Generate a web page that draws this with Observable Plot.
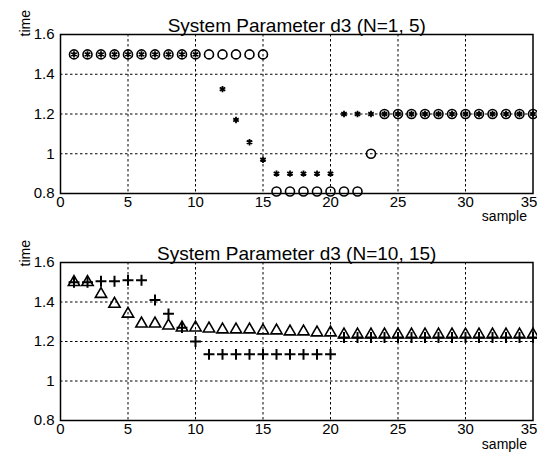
<!DOCTYPE html>
<html><head><meta charset="utf-8">
<script src="https://cdn.jsdelivr.net/npm/d3@7"></script>
<script src="https://cdn.jsdelivr.net/npm/@observablehq/plot@0.6"></script>
<style>body{margin:0;background:#fff} svg{display:block}</style>
</head><body><div id="chart"></div>
<script>
// ---- data ----
const titles = ["System Parameter d3 (N=1, 5)", "System Parameter d3 (N=10, 15)"];
const xTicks = [0, 5, 10, 15, 20, 25, 30, 35];
const yTicks = [0.8, 1, 1.2, 1.4, 1.6];
const yTickLabels = ["0.8", "1", "1.2", "1.4", "1.6"];
const xGrid = [5, 10, 15, 20, 25, 30];
const yGrid = [1, 1.2, 1.4];

// top panel: 'o' series
const topCircleX = [1,2,3,4,5,6,7,8,9,10,11,12,13,14,15,16,17,18,19,20,21,22,23,24,25,26,27,28,29,30,31,32,33,34,35];
const topCircleY = [1.5,1.5,1.5,1.5,1.5,1.5,1.5,1.5,1.5,1.5,1.5,1.5,1.5,1.5,1.5,
                    0.81,0.81,0.81,0.81,0.81,0.81,0.81,1.0,
                    1.2,1.2,1.2,1.2,1.2,1.2,1.2,1.2,1.2,1.2,1.2,1.2];
// top panel: '*' series
const topStarX = [1,2,3,4,5,6,7,8,9,10,12,13,14,15,16,17,18,19,20,21,22,23,24,25,26,27,28,29,30,31,32,33,34,35];
const topStarY = [1.5,1.5,1.5,1.5,1.5,1.5,1.5,1.5,1.5,1.5,
                  1.325,1.17,1.058,0.97,0.9,0.9,0.9,0.9,0.9,1.2,1.2,1.2,
                  1.2,1.2,1.2,1.2,1.2,1.2,1.2,1.2,1.2,1.2,1.2,1.2];
// bottom panel: triangle series
const botTriX = [1,2,3,4,5,6,7,8,9,10,11,12,13,14,15,16,17,18,19,20,21,22,23,24,25,26,27,28,29,30,31,32,33,34,35];
const botTriY = [1.5,1.5,1.44,1.39,1.34,1.29,1.29,1.28,1.27,1.27,1.265,1.26,1.26,1.26,1.255,1.255,1.25,1.25,1.245,1.245,
                 1.235,1.235,1.235,1.235,1.235,1.235,1.235,1.235,1.235,1.235,1.235,1.235,1.235,1.235,1.235];
// bottom panel: '+' series
const botPlusX = [1,2,3,4,5,6,7,8,9,10,11,12,13,14,15,16,17,18,19,20,21,22,23,24,25,26,27,28,29,30,31,32,33,34,35];
const botPlusY = [1.5,1.5,1.505,1.505,1.51,1.51,1.41,1.34,1.27,1.2,
                  1.135,1.135,1.135,1.135,1.135,1.135,1.135,1.135,1.135,1.135,
                  1.22,1.22,1.22,1.22,1.22,1.22,1.22,1.22,1.22,1.22,1.22,1.22,1.22,1.22,1.22];

const zip = (xs, ys) => xs.map((x, i) => ({x, y: ys[i]}));
const FONT = "Liberation Sans, Arial, Helvetica, sans-serif";

function panel({title, mTop, mBottom, titleDy, sampleDy, timeDy, seriesMarks}) {
  const lastTick = xTicks[xTicks.length - 1];
  return Plot.plot({
    width: 537, height: 229,
    marginLeft: 60, marginRight: 4.5, marginTop: mTop, marginBottom: mBottom,
    style: {fontFamily: FONT, fontSize: "15px", color: "black", background: "white"},
    x: {domain: [0, 35], axis: null},
    y: {domain: [0.8, 1.6], ticks: yTicks, tickFormat: d => yTickLabels[yTicks.indexOf(d)], tickSize: 0, tickPadding: 6, label: null},
    marks: [
      Plot.ruleX(xGrid, {stroke: "black", strokeWidth: 1, strokeDasharray: "2.5,2.5"}),
      Plot.ruleY(yGrid, {stroke: "black", strokeWidth: 1, strokeDasharray: "2.5,2.5"}),
      Plot.frame({stroke: "black", strokeWidth: 1.5}),
      ...seriesMarks,
      // x tick labels
      Plot.text(xTicks.filter(d => d !== lastTick), {x: d => d, text: d => String(d), frameAnchor: "bottom", lineAnchor: "top", dy: 3, fontSize: 15}),
      Plot.text([lastTick], {x: d => d, text: d => String(d), frameAnchor: "bottom", lineAnchor: "top", dy: 3, dx: -4, fontSize: 15}),
      Plot.text([title], {text: d => d, frameAnchor: "top", dy: titleDy, fontSize: 19}),
      Plot.text(["time"], {text: d => d, frameAnchor: "top-left", dx: -40, dy: timeDy, rotate: -90, fontSize: 14}),
      Plot.text(["sample"], {text: d => d, frameAnchor: "bottom-right", textAnchor: "end", dx: -6, dy: sampleDy, fontSize: 14})
    ]
  });
}

const topPanel = panel({
  title: titles[0], mTop: 34, mBottom: 36, titleDy: -16, sampleDy: 27, timeDy: 2,
  seriesMarks: [
    Plot.dot(zip(topCircleX, topCircleY), {x: "x", y: "y", r: 4.5, stroke: "black", strokeWidth: 1.6, fill: "none"}),
    Plot.dot(zip(topStarX, topStarY), {x: "x", y: "y", symbol: "asterisk", r: 3, stroke: "black", strokeWidth: 1.8})
  ]
});
const bottomPanel = panel({
  title: titles[1], mTop: 33, mBottom: 38, titleDy: -16, sampleDy: 28, timeDy: 4,
  seriesMarks: [
    Plot.dot(zip(botTriX, botTriY), {x: "x", y: "y", symbol: "triangle", r: 4.2, stroke: "black", strokeWidth: 1.6, fill: "none"}),
    Plot.dot(zip(botPlusX, botPlusY), {x: "x", y: "y", symbol: "plus", r: 3.6, stroke: "black", strokeWidth: 2})
  ]
});
const root = document.getElementById("chart");
root.appendChild(topPanel);
root.appendChild(bottomPanel);
</script>
</body></html>
